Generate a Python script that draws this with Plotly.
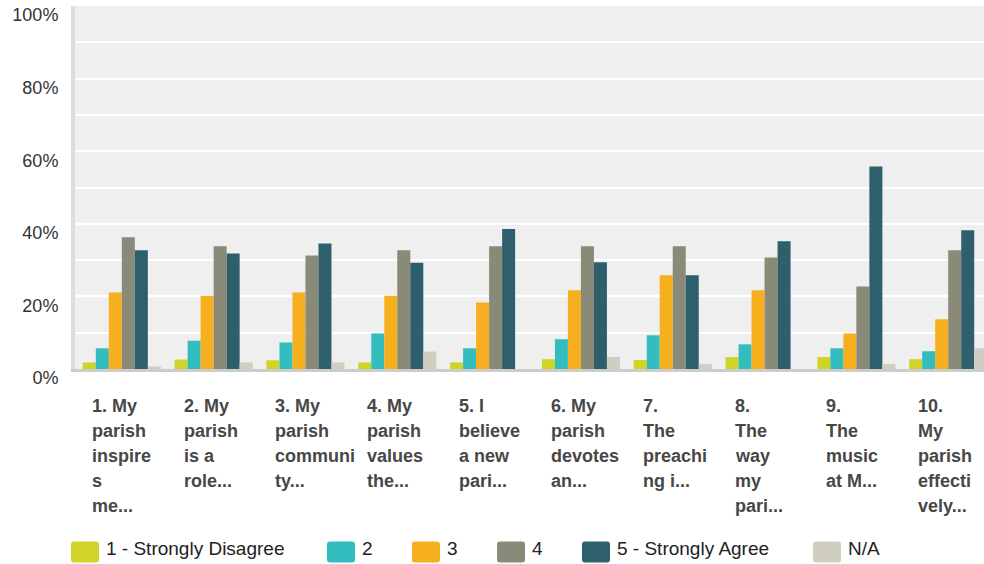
"""
Grouped bar chart of parish survey responses (Likert scale by statement).
"""

import plotly.graph_objects as go

# Statements (already wrapped the way the source chart wraps them)
TICK_LABELS = [
    "1. My<br>parish<br>inspire<br>s<br>me...",
    "2. My<br>parish<br>is a<br>role...",
    "3. My<br>parish<br>communi<br>ty...",
    "4. My<br>parish<br>values<br>the...",
    "5. I<br>believe<br>a new<br>pari...",
    "6. My<br>parish<br>devotes<br>an...",
    "7.<br>The<br>preachi<br>ng i...",
    "8.<br>The<br>way<br>my<br>pari...",
    "9.<br>The<br>music<br>at M...",
    "10.<br>My<br>parish<br>effecti<br>vely...",
]

SERIES_NAMES = ["1 - Strongly Disagree", "2", "3", "4", "5 - Strongly Agree", "N/A"]

# Percent of respondents per answer
STRONGLY_DISAGREE = [1.8, 2.6, 2.4, 1.8, 1.8, 2.7, 2.5, 3.3, 3.3, 2.7]
ANSWER_2 = [5.7, 7.8, 7.3, 9.8, 5.7, 8.2, 9.3, 6.8, 5.7, 4.9]
ANSWER_3 = [21.1, 20.2, 21.1, 20.2, 18.3, 21.7, 25.8, 21.7, 9.8, 13.7]
ANSWER_4 = [36.3, 33.8, 31.3, 32.7, 33.8, 33.8, 33.8, 30.7, 22.7, 32.7]
STRONGLY_AGREE = [32.7, 31.8, 34.6, 29.3, 38.6, 29.4, 25.8, 35.2, 55.8, 38.2]
NOT_APPLICABLE = [0.7, 1.8, 1.8, 4.8, 0.0, 3.3, 1.4, 0.0, 1.4, 5.7]

Y_TICKS = [0, 20, 40, 60, 80, 100]

COLORS = ["#cfd427", "#33bdbf", "#f6af1f", "#8a8a79", "#2e5f6d", "#cfcec0"]

# Figure geometry (pixels)
WIDTH, HEIGHT = 984, 564
MARGIN = dict(l=75, r=0, t=6, b=195)
PLOT_W = WIDTH - MARGIN["l"] - MARGIN["r"]
PLOT_H = HEIGHT - MARGIN["t"] - MARGIN["b"]
FONT = "Arial, 'Liberation Sans', sans-serif"
LABEL_LINE_HEIGHT = 25  # category labels use a looser leading than plotly's

# Legend swatch left edges, pixels
LEGEND_X = [71, 327, 412, 497, 582, 813]
LEGEND_Y = 552


def px_to_paper_x(px):
    return (px - MARGIN["l"]) / PLOT_W


def py_to_paper_y(py):
    return (HEIGHT - MARGIN["b"] - py) / PLOT_H


def rounded_rect(w, h, r):
    return (
        f"M{-w + r},{-h} L{w - r},{-h} Q{w},{-h} {w},{-h + r} "
        f"L{w},{h - r} Q{w},{h} {w - r},{h} L{-w + r},{h} "
        f"Q{-w},{h} {-w},{h - r} L{-w},{-h + r} Q{-w},{-h} {-w + r},{-h} Z"
    )


series = [
    STRONGLY_DISAGREE,
    ANSWER_2,
    ANSWER_3,
    ANSWER_4,
    STRONGLY_AGREE,
    NOT_APPLICABLE,
]

fig = go.Figure()
for name, values, color in zip(SERIES_NAMES, series, COLORS):
    fig.add_trace(
        go.Bar(
            x=list(range(len(TICK_LABELS))),
            y=values,
            name=name,
            marker=dict(color=color, line=dict(width=0)),
        )
    )

# Left-aligned category labels under each group, one annotation per line
for i, label in enumerate(TICK_LABELS):
    for j, line in enumerate(label.split("<br>")):
        fig.add_annotation(
            x=i,
            y=0,
            xref="x",
            yref="paper",
            text=f"<b>{line}</b>",
            showarrow=False,
            xanchor="left",
            yanchor="top",
            align="left",
            xshift=-32,
            yshift=-25 - LABEL_LINE_HEIGHT * j,
            font=dict(family=FONT, size=18, color="#474747"),
        )

# Hand-drawn legend with large rounded swatches
for name, color, lx in zip(SERIES_NAMES, COLORS, LEGEND_X):
    fig.add_shape(
        type="path",
        xref="paper",
        yref="paper",
        xsizemode="pixel",
        ysizemode="pixel",
        xanchor=px_to_paper_x(lx + 14),
        yanchor=py_to_paper_y(LEGEND_Y),
        path=rounded_rect(14, 10.5, 3),
        fillcolor=color,
        line=dict(width=0),
    )
    fig.add_annotation(
        x=px_to_paper_x(lx + 33),
        y=py_to_paper_y(LEGEND_Y - 4),
        xref="paper",
        yref="paper",
        text=name,
        showarrow=False,
        xanchor="left",
        yanchor="middle",
        font=dict(family=FONT, size=19, color="#222222"),
    )

fig.update_layout(
    width=WIDTH,
    height=HEIGHT,
    margin=MARGIN,
    barmode="group",
    bargap=0.15,
    bargroupgap=0,
    showlegend=False,
    plot_bgcolor="#efefef",
    paper_bgcolor="white",
    font=dict(family=FONT, size=18, color="#333333"),
    xaxis=dict(
        range=[-0.51, 9.39],
        showticklabels=False,
        showgrid=False,
        zeroline=False,
        showline=True,
        linecolor="#cccccc",
        linewidth=3,
        automargin=False,
    ),
    yaxis=dict(
        range=[0, 100],
        tickvals=Y_TICKS,
        ticktext=[f"{v}%" for v in Y_TICKS],
        ticks="",
        ticklabelstandoff=9,
        ticklabelshift=9,
        ticklabeloverflow="allow",
        automargin=False,
        showgrid=True,
        gridcolor="white",
        gridwidth=2,
        minor=dict(dtick=10, showgrid=True, gridcolor="white", gridwidth=2),
        zeroline=False,
        showline=True,
        linecolor="#dddddd",
        linewidth=4,
    ),
)

# The page's default body margin would push the fixed-size figure off-window
fig.write_html(
    "out.html",
    config={"displayModeBar": False},
    post_script="document.body.style.margin = '0';",
)
